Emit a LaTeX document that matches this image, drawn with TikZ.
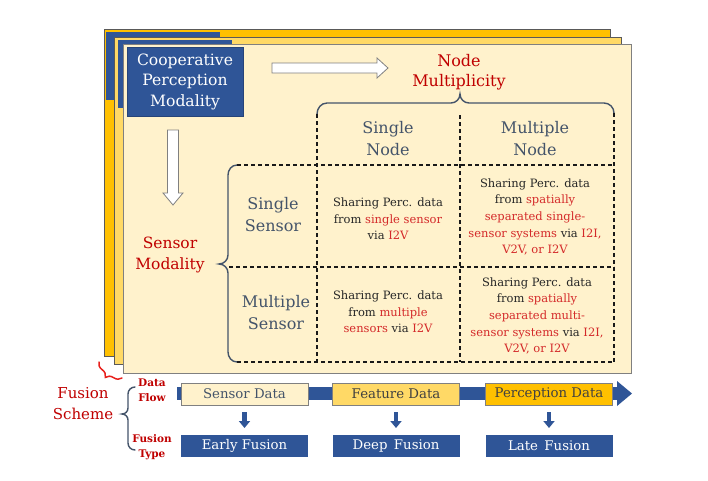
\documentclass[tikz,border=0pt]{standalone}
\usepackage{fontspec}
\setmainfont{DejaVu Serif}
\usetikzlibrary{arrows.meta,decorations.pathreplacing,calc}
\definecolor{cpblue}{HTML}{2F5597}
\definecolor{gold}{HTML}{FFC000}
\definecolor{ltgold}{HTML}{FFD966}
\definecolor{cream}{HTML}{FFF2CC}
\definecolor{cred}{HTML}{C00000}
\definecolor{lred}{HTML}{D42A2A}
\definecolor{bred}{HTML}{E8201C}
\definecolor{slate}{HTML}{44546A}
\definecolor{txt}{HTML}{262626}
\definecolor{edge}{HTML}{595959}
\newcommand{\rd}[1]{\textcolor{lred}{#1}}
\begin{document}
\begin{tikzpicture}[x=1pt,y=-1pt,
  every node/.style={inner sep=0pt,outer sep=0pt},
  panel/.style={fill=#1,draw=edge,line width=0.8pt},
  bluebox/.style={fill=cpblue,draw=cpblue!80!black,line width=0.5pt},
  cpbox/.style={bluebox,text=white,align=center,font=\fontsize{15.6}{20.5}\selectfont},
  hollow/.style={fill=white,draw=gray,line width=0.8pt},
  redhead/.style={text=cred,align=center},
  slatehead/.style={text=slate,align=center,font=\fontsize{16}{21.5}\selectfont},
  celltext/.style={text=txt,align=center,font=\fontsize{11.5}{16.7}\selectfont},
  brc/.style={draw=slate,line width=1.4pt,line cap=round},
  grid/.style={draw=black!90,line width=1.2pt,dash pattern=on 4pt off 3pt},
  flowbox/.style={draw=gray,line width=0.8pt,minimum width=127,minimum height=22,font=\fontsize{13.3}{16}\selectfont},
  fusebox/.style={fill=cpblue,text=white,minimum width=127,minimum height=22,font=\fontsize{13.3}{16}\selectfont},
  smalllabel/.style={text=cred,align=center,font=\bfseries\fontsize{10.5}{15}\selectfont},
  downarr/.style={draw=cpblue,line width=4.5pt,-{Triangle[width=11pt,length=7pt]},shorten <=7pt,shorten >=7pt}
]
\useasboundingbox[fill=white] (0,0) rectangle (708,480);

% stacked panels
\draw[panel=gold] (104,29) rectangle (610,356);
\fill[cpblue] (106,32) rectangle (220,100);
\draw[panel=ltgold] (114,37) rectangle (621,364);
\fill[cpblue] (118,40) rectangle (232,108);
\draw[panel=cream,draw=gray] (123,44) rectangle (631,373);

\node[cpbox,minimum width=116,minimum height=69] (cpm) at (185,81.5) {Cooperative\\Perception\\Modality};

% hollow arrows
\draw[hollow] (272,63) -- (377,63) -- (377,58) -- (388,68) -- (377,78) -- (377,73) -- (272,73) -- cycle;
\draw[hollow] (167.5,130) -- (178.5,130) -- (178.5,193) -- (183,193) -- (173,205) -- (163,193) -- (167.5,193) -- cycle;

% headings
\node[redhead,font=\fontsize{16}{20.5}\selectfont] (nm) at (459,72) {Node\\Multiplicity};
\node[redhead,font=\fontsize{15.5}{20.5}\selectfont] (sm) at (170,255) {Sensor\\Modality};
\node[slatehead] (sn) at (388,138.5) {Single\\Node};
\node[slatehead] (mn) at (535,138.5) {Multiple\\Node};
\node[slatehead] (ss) at (273,214.5) {Single\\Sensor};
\node[slatehead] (ms) at (276,312.5) {Multiple\\Sensor};

% braces
\draw[brc] (317,114) to[out=90,in=180] (327,103) -- (451,103) to[out=0,in=-90] (460,94) to[out=-90,in=180] (469,103) -- (604,103) to[out=0,in=90] (614,113);
\draw[brc] (237,165) to[out=180,in=90] (228,175) -- (228,255) to[out=-90,in=0] (219,264) to[out=0,in=90] (228,273) -- (228,352) to[out=-90,in=180] (237,362);

% dashed grid
\draw[grid] (317,114) -- (317,362);
\draw[grid] (460,115) -- (460,362);
\draw[grid] (614,113) -- (614,362);
\draw[grid] (237,165) -- (614,165);
\draw[grid] (229,267) -- (614,267);
\draw[grid] (237,362) -- (614,362);

% cells
\node[celltext] (c11) at (388,219) {Sharing Perc. data\\from \rd{single sensor}\\via \rd{I2V}};
\node[celltext] (c12) at (535,217) {Sharing Perc. data\\from \rd{spatially}\\\rd{separated single-}\\\rd{sensor systems} via \rd{I2I,}\\\rd{V2V, or I2V}};
\node[celltext] (c21) at (388,312) {Sharing Perc. data\\from \rd{multiple}\\\rd{sensors} via \rd{I2V}};
\node[celltext] (c22) at (537,316) {Sharing Perc. data\\from \rd{spatially}\\\rd{separated multi-}\\\rd{sensor systems} via \rd{I2I,}\\\rd{V2V, or I2V}};

% fusion scheme
\draw[draw=bred,line width=1.5pt,line cap=round,decorate,decoration={brace,amplitude=9pt,aspect=0.5}] (122,378) -- (99,362);
\node[redhead,font=\fontsize{15}{21}\selectfont] (fsch) at (83,404) {Fusion\\Scheme};
\draw[brc] (135,387) to[out=180,in=90] (128,394) -- (128,408) to[out=-90,in=0] (122,414) to[out=0,in=90] (128,420) -- (128,443) to[out=-90,in=180] (135,450);
\node[smalllabel] (dfl) at (152,390) {Data\\Flow};
\node[smalllabel] (ftl) at (152,447) {Fusion\\Type};

% data flow band
\coordinate (fs) at (177,393.5);
\coordinate (fh) at (617,393.5);
\coordinate (fe) at (632,393.5);
\draw[cpblue,line width=13pt] (fs) -- (fh);
\fill[cpblue] ($(fh)+(0,-12.5)$) -- (fe) -- ($(fh)+(0,12.5)$) -- cycle;

\node[flowbox,fill=cream,text=slate] (sd) at (244.5,394) {Sensor Data};
\node[flowbox,fill=ltgold,text=black!75] (fd) at (396,394) {Feature Data};
\node[flowbox,fill=gold,text=black!75] (pd) at (549,394) {Perception Data};

\node[fusebox] (ef) at (244.5,446) {Early Fusion};
\node[fusebox] (df) at (396,446) {Deep\, Fusion};
\node[fusebox] (lf) at (549,446) {Late\, Fusion};

\draw[downarr] (sd) -- (ef);
\draw[downarr] (fd) -- (df);
\draw[downarr] (pd) -- (lf);
\end{tikzpicture}
\end{document}
